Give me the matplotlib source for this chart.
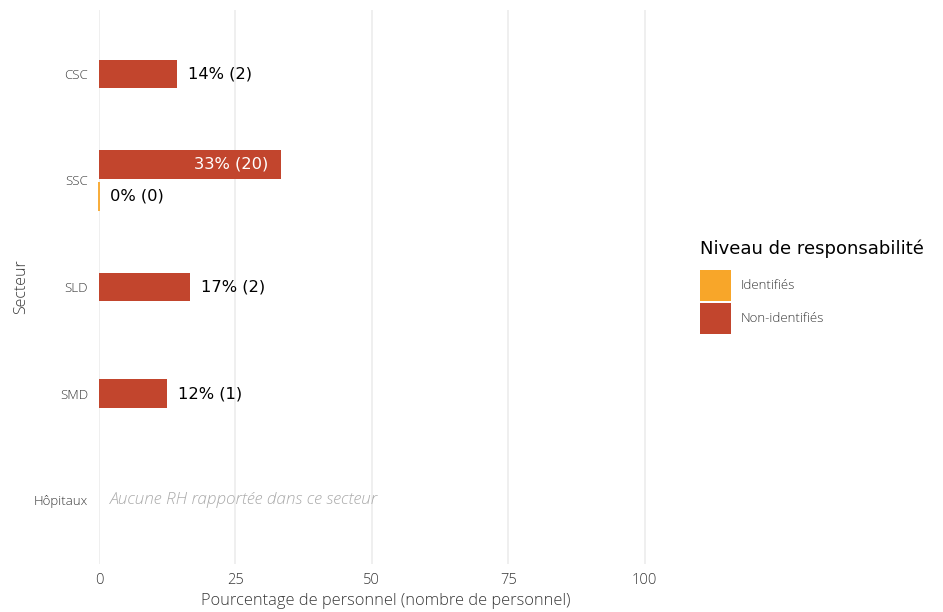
import matplotlib
matplotlib.use("Agg")
import matplotlib.pyplot as plt
from matplotlib.patches import Patch

categories = ["CSC", "SSC", "SLD", "SMD", "Hôpitaux"]
series = ["Identifiés", "Non-identifiés"]
identified_pct = [None, 0.0, None, None, None]
identified_n = [None, 0, None, None, None]
nonident_pct = [14.3, 33.3, 16.7, 12.5, None]
nonident_n = [2, 20, 2, 1, None]
empty_note = "Aucune RH rapportée dans ce secteur"
legend_title = "Niveau de responsabilité"
x_ticks = [0, 25, 50, 75, 100]

colors = {"Identifiés": "#F8A629", "Non-identifiés": "#C2452D"}
tick_font = "Open Sans"
tw = "light"
tc = "#383838"

fig = plt.figure(figsize=(9.43, 6.12), dpi=100)
W, H = 943, 612
left, right, top, bottom = 99, 672, 10, 564
ax = fig.add_axes([left / W, 1 - bottom / H, (right - left) / W, (bottom - top) / H])

bar_h = 0.27
off = 0.15
data = {"Identifiés": (identified_pct, identified_n), "Non-identifiés": (nonident_pct, nonident_n)}
for i, cat in enumerate(categories):
    present = [s for s in series if data[s][0][i] is not None]
    if not present:
        ax.text(2, i, empty_note, fontsize=12.3, color="#ABABAB", style="italic",
                family=tick_font, weight=tw, va="center", ha="left")
        continue
    if len(present) == 2:
        pos = {"Non-identifiés": i - off, "Identifiés": i + off}
    else:
        pos = {present[0]: i}
    for s in present:
        p = data[s][0][i]
        n = data[s][1][i]
        y = pos[s]
        bars = ax.barh(y, p, height=bar_h, color=colors[s],
                       edgecolor=colors[s] if p == 0 else "none",
                       linewidth=1.3 if p == 0 else 0, zorder=3)
        if p == 0:
            for b in bars:
                b.set_clip_on(False)
        lab = f"{round(p)}% ({n})"
        if p > 25:
            ax.text(p - 2.2, y, lab, ha="right", va="center", fontsize=11.7, color="white", zorder=4)
        else:
            ax.text(p + 2.0, y, lab, ha="left", va="center", fontsize=11.7, color="black", zorder=4)

ax.set_xlim(0, 105)
ax.set_ylim(len(categories) - 1 + 0.6, -0.6)
ax.set_xticks(x_ticks)
ax.set_xticklabels([str(t) for t in x_ticks], family=tick_font, weight=tw, fontsize=10.5, color=tc)
ax.set_yticks(range(len(categories)))
ax.set_yticklabels(categories, family=tick_font, weight=tw, fontsize=9.5, color=tc)
ax.tick_params(axis="y", length=0, pad=8)
ax.tick_params(axis="x", length=0, pad=6.5)
for sp in ax.spines.values():
    sp.set_visible(False)
ax.grid(axis="x", color="#EBEBEB", linewidth=1.1, zorder=0)
ax.set_axisbelow(True)
ax.set_xlabel("Pourcentage de personnel (nombre de personnel)", family=tick_font, weight=tw,
              fontsize=11.75, color=tc, labelpad=3.5)
ax.set_ylabel("Secteur", family=tick_font, weight=tw, fontsize=11.5, color=tc, labelpad=3)

fig.text(700 / W, 1 - 249 / H, legend_title, fontsize=13, color="black", ha="left", va="center")
handles = [Patch(facecolor=colors[s], edgecolor="none", label=s) for s in series]
fs = 9.5
hh = (31 * 72 / 100 / fs - 0.245) / 0.65
leg = fig.legend(handles=handles, loc="upper left",
                 bbox_to_anchor=(700 / W, 1 - 270 / H), frameon=False,
                 handlelength=31 * 72 / 100 / fs, handleheight=hh,
                 labelspacing=0.15, handletextpad=0.75, borderpad=0, borderaxespad=0,
                 prop={"family": tick_font, "weight": tw, "size": fs})
for t in leg.get_texts():
    t.set_color(tc)

fig.savefig("out.png", dpi=100, facecolor="white")
